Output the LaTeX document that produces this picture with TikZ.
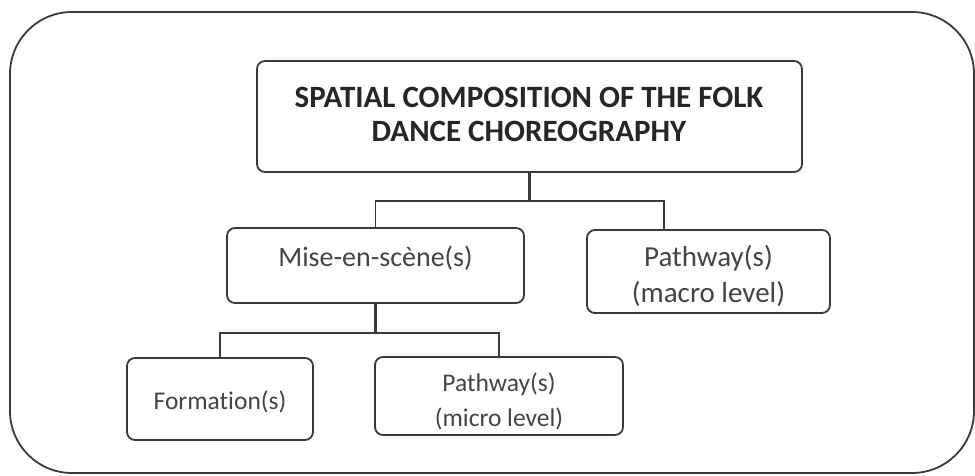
\documentclass[tikz,border=0pt]{standalone}
\usepackage{fontspec}
\setmainfont{Carlito}[Ligatures=NoCommon]
\begin{document}
\begin{tikzpicture}[x=1pt,y=-1pt,
  box/.style={draw=linecol,line width=1.8pt,rounded corners=8pt,inner sep=0pt},
  link/.style={draw=linecol,line width=1.8pt},
  stem/.style={draw=linecol,line width=2.6pt},
  txt/.style={anchor=base,inner sep=0pt,text=txtcol,font=\fontsize{28}{34}\selectfont},
  ttl/.style={anchor=base,inner sep=0pt,text=ttlcol,font=\fontsize{31}{34}\selectfont\bfseries}]
\definecolor{linecol}{HTML}{3A3A3A}
\definecolor{txtcol}{HTML}{444444}
\definecolor{ttlcol}{HTML}{262626}
\useasboundingbox (0,0) rectangle (975,476);
\draw[linecol,line width=1.8pt,rounded corners=62pt] (10,12) rectangle (974,473);
% boxes
\node[box,minimum width=545pt,minimum height=111pt] (top) at (529.5,116.5) {};
\node[box,minimum width=297pt,minimum height=75pt] (mise) at (375.5,265.5) {};
\node[box,minimum width=243pt,minimum height=83pt] (macro) at (708.5,271.5) {};
\node[box,minimum width=186pt,minimum height=82pt] (form) at (220,399) {};
\node[box,minimum width=248pt,minimum height=78pt] (micro) at (499,396) {};
% texts
\node[ttl] (t1) at (529,108) {SPATIAL COMPOSITION OF THE FOLK};
\node[ttl] (t2) at (529,142) {DANCE CHOREOGRAPHY};
\node[txt] (m1) at (375.5,266) {Mise-en-scène(s)};
\node[txt,font=\fontsize{29}{34}\selectfont] (p1) at (708.5,266) {Pathway(s)};
\node[txt,font=\fontsize{29}{34}\selectfont] (p2) at (708.5,302) {(macro level)};
\node[txt,font=\fontsize{25.5}{30}\selectfont] (f1) at (220,409) {Formation(s)};
\node[txt,font=\fontsize{25.5}{30}\selectfont] (q1) at (499,391) {Pathway(s)};
\node[txt,font=\fontsize{25.5}{30}\selectfont] (q2) at (499,426) {(micro level)};
% connectors
\coordinate (j1) at ([yshift=-28pt]top.south);
\coordinate (mdrop) at ([xshift=78pt]macro.north west);
\draw[stem] (top.south) -- (j1);
\draw[link] (mise.north) -- (mise.north |- j1) -- (mdrop |- j1) -- (mdrop);
\coordinate (j2) at ([yshift=-29pt]mise.south);
\draw[stem] (mise.south) -- (j2);
\draw[link] (form.north) -- (form.north |- j2) -- (micro.north |- j2) -- (micro.north);
\end{tikzpicture}
\end{document}
